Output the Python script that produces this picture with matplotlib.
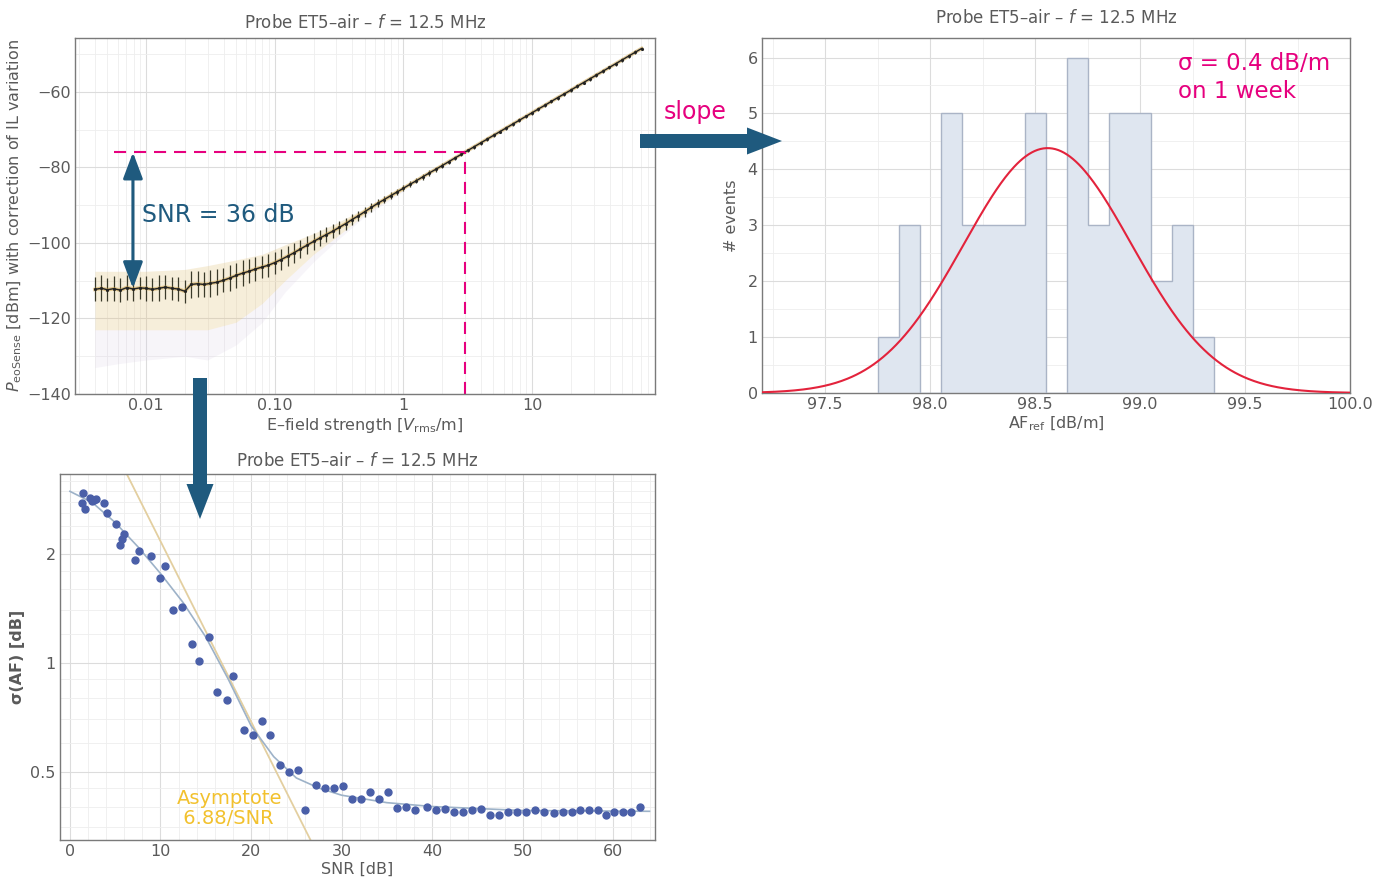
import numpy as np
import matplotlib
matplotlib.use('Agg')
import matplotlib.pyplot as plt
from matplotlib.patches import FancyArrow
from matplotlib.ticker import FixedLocator, MultipleLocator, NullFormatter, LogLocator

plt.rcParams['font.family'] = ['DejaVu Sans']
plt.rcParams['mathtext.fontset'] = 'dejavusans'

# ── Colours ───────────────────────────────────────────────────────────────────
BLUE    = '#1f5a7e'
MAGENTA = '#e6007e'
GREY    = '#5a5a5a'
SPINE   = '#7a7a7a'
GOLD    = '#f2c12e'

# ── Panel 1: P_eoSense vs E-field ─────────────────────────────────────────────
e_field = [0.0040, 0.0045, 0.0050, 0.0056, 0.0063, 0.0071, 0.0079, 0.0089, 0.0100, 0.0112,
           0.0126, 0.0141, 0.0158, 0.0178, 0.0200, 0.0224, 0.0251, 0.0282, 0.0316, 0.0355,
           0.0398, 0.0447, 0.0501, 0.0562, 0.0631, 0.0708, 0.0794, 0.0891, 0.100, 0.112,
           0.126, 0.141, 0.158, 0.178, 0.200, 0.224, 0.251, 0.282, 0.316, 0.355,
           0.398, 0.447, 0.501, 0.562, 0.631, 0.708, 0.794, 0.891, 1.00, 1.12,
           1.26, 1.41, 1.58, 1.78, 2.00, 2.24, 2.51, 2.82, 3.16, 3.55,
           3.98, 4.47, 5.01, 5.62, 6.31, 7.08, 7.94, 8.91, 10.0, 11.2,
           12.6, 14.1, 15.8, 17.8, 20.0, 22.4, 25.1, 28.2, 31.6, 35.5,
           39.8, 44.7, 50.1, 56.2, 63.1, 70.8]
p_sense = [-112.3, -112.0, -112.4, -112.1, -112.5, -111.8, -112.2, -111.9, -112.0, -112.3,
           -112.0, -111.7, -112.0, -112.2, -112.8, -111.0, -110.8, -111.0, -110.7, -110.4,
           -109.9, -109.3, -108.6, -108.0, -107.5, -106.9, -106.4, -105.9, -105.2, -104.4,
           -103.5, -102.6, -101.6, -100.6, -99.6, -98.7, -97.8, -96.9, -95.9, -94.9,
           -93.8, -92.8, -91.7, -90.6, -89.5, -88.5, -87.5, -86.5, -85.5, -84.5,
           -83.5, -82.5, -81.5, -80.5, -79.5, -78.5, -77.5, -76.5, -75.5, -74.5,
           -73.5, -72.5, -71.5, -70.5, -69.5, -68.5, -67.5, -66.5, -65.5, -64.5,
           -63.5, -62.5, -61.5, -60.5, -59.5, -58.5, -57.5, -56.5, -55.5, -54.5,
           -53.5, -52.5, -51.5, -50.5, -49.5, -48.5]
p_err   = [3.2, 3.4, 3.0, 3.3, 3.1, 3.4, 3.2, 3.0, 3.3, 3.1,
           3.4, 3.2, 3.0, 3.3, 3.1, 3.6, 3.5, 3.3, 3.6, 3.4,
           3.2, 3.5, 3.3, 3.4, 3.2, 3.3, 3.0, 3.1, 2.9, 2.8,
           2.7, 2.6, 2.5, 2.4, 2.2, 2.1, 2.0, 1.8, 1.7, 1.6,
           1.5, 1.4, 1.3, 1.2, 1.1, 1.0, 0.9, 0.9, 0.8, 0.8,
           0.7, 0.7, 0.7, 0.6, 0.6, 0.6, 0.6, 0.5, 0.5, 0.5,
           0.5, 0.5, 0.5, 0.5, 0.5, 0.5, 0.5, 0.5, 0.5, 0.5,
           0.5, 0.5, 0.5, 0.5, 0.5, 0.5, 0.5, 0.5, 0.5, 0.5,
           0.5, 0.5, 0.5, 0.5, 0.5, 0.5]

# faint spread of the individual sweeps (envelope)
spread_e   = [0.0040, 0.006, 0.010, 0.020, 0.030, 0.050, 0.080, 0.12, 0.20, 0.30, 0.50, 1.0]
spread_hi  = [-107.5, -107.5, -107.5, -107.0, -106.0, -104.5, -103.0, -100.5, -97.5, -94.8, -90.8, -85.0]
spread_mid = [-123.0, -123.0, -123.0, -123.0, -123.0, -121.0, -116.0, -110.0, -103.0, -98.5, -92.5, -86.0]
spread_lo  = [-133.0, -132.0, -131.0, -130.0, -131.0, -127.0, -121.0, -113.0, -105.0, -99.5, -93.0, -86.3]

snr_ref_e   = 3.0      # field where the SNR is read
snr_top     = -76.0
snr_floor   = -112.0
dash_start  = 0.0056
arrow_e     = 0.0079

# ── Panel 2: histogram of AF_ref ──────────────────────────────────────────────
af_edges  = [97.75, 97.85, 97.95, 98.05, 98.15, 98.25, 98.35, 98.45, 98.55,
             98.65, 98.75, 98.85, 98.95, 99.05, 99.15, 99.25, 99.35]
af_counts = [1, 3, 0, 5, 3, 3, 3, 5, 0, 6, 3, 5, 5, 2, 3, 1]
gauss_mu, gauss_sd, gauss_amp = 98.56, 0.40, 4.38

# ── Panel 3: sigma(AF) vs SNR ─────────────────────────────────────────────────
snr_pts = [1.3, 1.5, 1.7, 2.2, 2.4, 2.7, 2.9, 3.8, 4.1, 5.1, 5.5, 5.7, 6.0, 7.2, 7.6,
           8.9, 9.9, 10.5, 11.4, 12.4, 13.5, 14.3, 15.4, 16.2, 17.3, 18.0, 19.2, 20.2,
           21.2, 22.1, 23.2, 24.2, 25.2, 26.0, 27.2, 28.2, 29.2, 30.1, 31.1, 32.1, 33.1,
           34.1, 35.1, 36.1, 37.1, 38.1, 39.4, 40.4, 41.4, 42.4, 43.4, 44.4, 45.4, 46.4,
           47.4, 48.4, 49.4, 50.4, 51.4, 52.4, 53.4, 54.4, 55.4, 56.3, 57.3, 58.3, 59.2,
           60.1, 61.1, 62.0, 62.9]
sig_pts = [2.77, 2.95, 2.67, 2.87, 2.81, 2.82, 2.85, 2.78, 2.61, 2.43, 2.12, 2.20, 2.27, 1.93, 2.04,
           1.98, 1.72, 1.86, 1.40, 1.43, 1.13, 1.01, 1.18, 0.83, 0.79, 0.92, 0.65, 0.63,
           0.69, 0.63, 0.52, 0.50, 0.505, 0.39, 0.46, 0.45, 0.45, 0.456, 0.42, 0.42, 0.44,
           0.42, 0.44, 0.396, 0.40, 0.39, 0.398, 0.39, 0.393, 0.386, 0.386, 0.39, 0.395, 0.38,
           0.38, 0.387, 0.387, 0.387, 0.39, 0.386, 0.385, 0.386, 0.386, 0.39, 0.39, 0.39, 0.38,
           0.386, 0.386, 0.387, 0.40]
fit_snr = [0, 2.5, 5, 7.5, 10, 12.5, 15, 17.5, 20, 22.5, 25, 27.5, 30, 35, 40, 50, 64]
fit_sig = [2.99, 2.78, 2.45, 2.10, 1.77, 1.47, 1.18, 0.90, 0.67, 0.55, 0.48, 0.45, 0.43, 0.41, 0.40, 0.39, 0.388]
asym_coef = 6.88


def style_axes(ax):
    for s in ax.spines.values():
        s.set_color(SPINE)
        s.set_linewidth(1.0)
    ax.tick_params(which='both', colors=GREY, labelsize=11.5, length=0, pad=3)
    ax.grid(True, which='major', color='#dcdcdc', lw=0.8)
    ax.grid(True, which='minor', color='#eeeeee', lw=0.6)
    ax.set_axisbelow(True)


TITLE = 'Probe ET5\u2013air \u2013 $f$ = 12.5 MHz'

fig = plt.figure(figsize=(13.78, 8.81), dpi=100)

# ── Panel 1 ───────────────────────────────────────────────────────────────────
ax1 = fig.add_axes([0.0544, 0.5528, 0.4209, 0.4041])
style_axes(ax1)
ax1.set_xscale('log')
ax1.fill_between(spread_e, spread_mid, spread_hi, color='#e2c27c', alpha=0.28, lw=0)
ax1.fill_between(spread_e, spread_lo, spread_mid, color='#d6c8e2', alpha=0.18, lw=0)
ax1.errorbar(e_field, p_sense, yerr=p_err, fmt='none', ecolor='#3a3a2a', elinewidth=0.9)
ax1.plot(e_field, p_sense, color='#c79a3a', lw=2.6, alpha=0.5)
ax1.plot(e_field, p_sense, color='#222222', lw=1.0, marker='.', markersize=2.5)
ax1.plot([dash_start, snr_ref_e], [snr_top, snr_top], color=MAGENTA, lw=1.5, dashes=(5.8, 3.8))
ax1.plot([snr_ref_e, snr_ref_e], [-140, snr_top], color=MAGENTA, lw=1.5, dashes=(5.8, 3.8))
ax1.annotate('', xy=(arrow_e, snr_top), xytext=(arrow_e, snr_floor),
             arrowprops=dict(arrowstyle='<|-|>,head_length=0.8,head_width=0.3',
                             color=BLUE, lw=2.2, mutation_scale=20, shrinkA=0, shrinkB=0))
ax1.text(0.0093, -92.7, 'SNR = 36 dB', color=BLUE, fontsize=17, va='center', ha='left')
ax1.set_xlim(0.0028, 90)
ax1.set_ylim(-140, -45.7)
ax1.xaxis.set_major_locator(FixedLocator([0.01, 0.1, 1, 10]))
ax1.set_xticklabels(['0.01', '0.10', '1', '10'])
ax1.xaxis.set_minor_locator(LogLocator(base=10, subs=np.arange(2, 10)))
ax1.xaxis.set_minor_formatter(NullFormatter())
ax1.yaxis.set_major_locator(MultipleLocator(20))
ax1.yaxis.set_minor_locator(MultipleLocator(10))
ax1.set_title(TITLE, color=GREY, fontsize=12, pad=7)
ax1.set_xlabel('E\u2013field strength [$V_{\\mathrm{rms}}$/m]', color=GREY, fontsize=11.5, labelpad=2)
ax1.set_ylabel('$P_{\\mathrm{eoSense}}$ [dBm] with correction of IL variation',
               color=GREY, fontsize=11.5, labelpad=2)

# ── Panel 2 ───────────────────────────────────────────────────────────────────
ax2 = fig.add_axes([0.553, 0.5539, 0.4267, 0.403])
style_axes(ax2)
ax2.stairs(af_counts, af_edges, fill=True, color='#dfe6f0', zorder=2)
ax2.stairs(af_counts, af_edges, baseline=0, color='#aab4c6', lw=1.0, zorder=3)
xg = np.linspace(97.2, 100.0, 400)
ax2.plot(xg, gauss_amp * np.exp(-0.5 * ((xg - gauss_mu) / gauss_sd) ** 2),
         color='#e3233c', lw=1.5, zorder=4)
ax2.text(1178, 881 - 98, '\u03c3 = 0.4 dB/m\non 1 week', transform=None,
         color=MAGENTA, fontsize=16.5, ha='left', va='baseline', linespacing=1.25)
ax2.set_xlim(97.2, 100.0)
ax2.set_ylim(0, 6.35)
ax2.xaxis.set_major_locator(MultipleLocator(0.5))
ax2.xaxis.set_minor_locator(MultipleLocator(0.25))
ax2.yaxis.set_major_locator(MultipleLocator(1))
ax2.yaxis.set_minor_locator(MultipleLocator(0.5))
ax2.set_xticks([97.5, 98.0, 98.5, 99.0, 99.5, 100.0])
ax2.set_xticklabels(['97.5', '98.0', '98.5', '99.0', '99.5', '100.0'])
ax2.set_title(TITLE, color=GREY, fontsize=12, pad=11)
ax2.set_xlabel('AF$_{\\mathrm{ref}}$ [dB/m]', color=GREY, fontsize=11.5, labelpad=2)
ax2.set_ylabel('# events', color=GREY, fontsize=11.5, labelpad=6)

# ── Panel 3 ───────────────────────────────────────────────────────────────────
ax3 = fig.add_axes([0.0435, 0.0465, 0.4318, 0.4155])
style_axes(ax3)
ax3.set_yscale('log')
sg = np.linspace(0, 30, 200)
ax3.plot(sg, asym_coef / 10 ** (sg / 20), color='#e3cfa0', lw=1.3, zorder=2)
ax3.plot(fit_snr, fit_sig, color='#9db2c8', lw=1.2, zorder=3)
ax3.plot(snr_pts, sig_pts, 'o', color='#4a5fa8', markersize=5, zorder=4)
ax3.text(11.8, 0.447, 'Asymptote\n 6.88/SNR', color=GOLD, fontsize=14,
         ha='left', va='top', linespacing=1.08)
ax3.set_xlim(-1.1, 64.6)
ax3.set_ylim(0.323, 3.34)
ax3.xaxis.set_major_locator(MultipleLocator(10))
ax3.xaxis.set_minor_locator(MultipleLocator(2))
ax3.yaxis.set_major_locator(FixedLocator([0.5, 1, 2]))
ax3.set_yticklabels(['0.5', '1', '2'])
ax3.yaxis.set_minor_locator(FixedLocator([0.35, 0.4, 0.45, 0.6, 0.7, 0.8, 0.9, 1.2, 1.4,
                                          1.6, 1.8, 2.2, 2.4, 2.6, 2.8, 3.0, 3.2]))
ax3.yaxis.set_minor_formatter(NullFormatter())
ax3.set_title(TITLE, color=GREY, fontsize=12, pad=6)
ax3.set_xlabel('SNR [dB]', color=GREY, fontsize=11.5, labelpad=2)
ax3.set_ylabel('\u03c3(AF) [dB]', color=GREY, fontsize=11.5, fontweight='bold', labelpad=4)

# ── Connecting arrows (figure inches) ────────────────────────────────────────
H = 8.81
fig.add_artist(FancyArrow(6.40, H - 1.41, 1.42, 0, width=0.14, head_width=0.27, head_length=0.35,
                          length_includes_head=True, color=BLUE, lw=0,
                          transform=fig.dpi_scale_trans, zorder=10))
fig.add_artist(FancyArrow(2.00, H - 3.78, 0, -1.41, width=0.14, head_width=0.27, head_length=0.35,
                          length_includes_head=True, color=BLUE, lw=0,
                          transform=fig.dpi_scale_trans, zorder=10))
fig.text(6.95 / 13.78, (H - 1.12) / H, 'slope', color=MAGENTA, fontsize=17, ha='center', va='center')

fig.savefig('out.png', dpi=100)
